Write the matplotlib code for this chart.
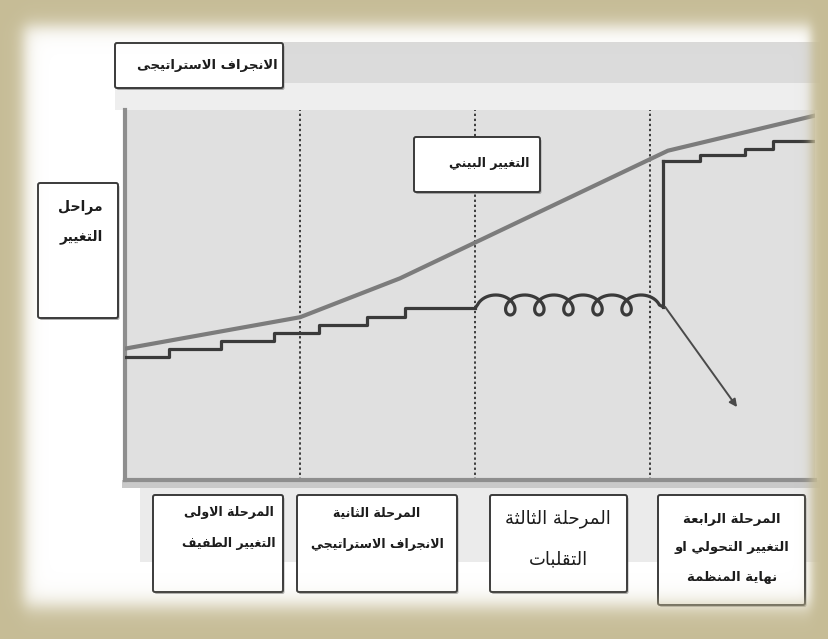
"""Stages of organisational change: incremental change, strategic drift,
turbulence, then transformation or the end of the organisation."""

import matplotlib
matplotlib.use("Agg")
import matplotlib.pyplot as plt
import numpy as np
from matplotlib.patches import FancyBboxPatch, Rectangle

# ---------------------------------------------------------------- data
# x is time measured in phases (phase boundaries at 1, 2, 3), y is the
# level of change on a 0-100 scale.
PHASE_BOUNDS = [1, 2, 3]

# environmental change (smooth grey line)
ENV_T = [0.0, 1.0, 1.57, 3.1, 3.94]
ENV_LEVEL = [35.5, 44.0, 54.5, 89.0, 98.5]

# incremental strategy steps (phases one and two)
STEP_T = [0.0, 0.25, 0.55, 0.85, 1.11, 1.38, 1.6, 2.0]
STEP_LEVEL = [33.2, 35.4, 37.6, 39.7, 41.9, 44.1, 46.5, 46.5]

# turbulence: loop centres along time
FLUX_T = [2.2, 2.366, 2.531, 2.697, 2.863]
FLUX_LEVEL = 47.3

# transformational jump and the steps after it
JUMP_T = 3.073
UPPER_T = [3.073, 3.284, 3.541, 3.70, 3.94]
UPPER_LEVEL = [86.2, 87.8, 89.5, 91.6, 91.6]

# decline arrow (end of the organisation)
DECLINE_FROM = (3.084, 46.8)
DECLINE_TO = (3.495, 19.7)

TITLE = "الانجراف الاستراتيجى"
ENV_LABEL = "التغيير البيني"
AXIS_LABEL = ["مراحل", "التغيير"]
STAGES = [
    ["المرحلة الاولى", "التغيير الطفيف"],
    ["المرحلة الثانية", "الانجراف الاستراتيجي"],
    ["المرحلة الثالثة", "التقلبات"],
    ["المرحلة الرابعة", "التغيير التحولي او", "نهاية المنظمة"],
]

# ---------------------------------------------------------------- arabic
# matplotlib lays text out left to right without contextual shaping, so
# map letters to their presentation forms and reverse each line.
_FORMS = {
    "ا": ("\uFE8D", "\uFE8E", None, None),
    "أ": ("\uFE83", "\uFE84", None, None),
    "إ": ("\uFE87", "\uFE88", None, None),
    "آ": ("\uFE81", "\uFE82", None, None),
    "ب": ("\uFE8F", "\uFE90", "\uFE91", "\uFE92"),
    "ة": ("\uFE93", "\uFE94", None, None),
    "ت": ("\uFE95", "\uFE96", "\uFE97", "\uFE98"),
    "ث": ("\uFE99", "\uFE9A", "\uFE9B", "\uFE9C"),
    "ج": ("\uFE9D", "\uFE9E", "\uFE9F", "\uFEA0"),
    "ح": ("\uFEA1", "\uFEA2", "\uFEA3", "\uFEA4"),
    "خ": ("\uFEA5", "\uFEA6", "\uFEA7", "\uFEA8"),
    "د": ("\uFEA9", "\uFEAA", None, None),
    "ذ": ("\uFEAB", "\uFEAC", None, None),
    "ر": ("\uFEAD", "\uFEAE", None, None),
    "ز": ("\uFEAF", "\uFEB0", None, None),
    "س": ("\uFEB1", "\uFEB2", "\uFEB3", "\uFEB4"),
    "ش": ("\uFEB5", "\uFEB6", "\uFEB7", "\uFEB8"),
    "ص": ("\uFEB9", "\uFEBA", "\uFEBB", "\uFEBC"),
    "ض": ("\uFEBD", "\uFEBE", "\uFEBF", "\uFEC0"),
    "ط": ("\uFEC1", "\uFEC2", "\uFEC3", "\uFEC4"),
    "ظ": ("\uFEC5", "\uFEC6", "\uFEC7", "\uFEC8"),
    "ع": ("\uFEC9", "\uFECA", "\uFECB", "\uFECC"),
    "غ": ("\uFECD", "\uFECE", "\uFECF", "\uFED0"),
    "ف": ("\uFED1", "\uFED2", "\uFED3", "\uFED4"),
    "ق": ("\uFED5", "\uFED6", "\uFED7", "\uFED8"),
    "ك": ("\uFED9", "\uFEDA", "\uFEDB", "\uFEDC"),
    "ل": ("\uFEDD", "\uFEDE", "\uFEDF", "\uFEE0"),
    "م": ("\uFEE1", "\uFEE2", "\uFEE3", "\uFEE4"),
    "ن": ("\uFEE5", "\uFEE6", "\uFEE7", "\uFEE8"),
    "ه": ("\uFEE9", "\uFEEA", "\uFEEB", "\uFEEC"),
    "و": ("\uFEED", "\uFEEE", None, None),
    "ى": ("\uFEEF", "\uFEF0", None, None),
    "ي": ("\uFEF1", "\uFEF2", "\uFEF3", "\uFEF4"),
}
_LAM_ALEF = {
    "ا": ("\uFEFB", "\uFEFC"),
    "أ": ("\uFEF7", "\uFEF8"),
    "إ": ("\uFEF9", "\uFEFA"),
    "آ": ("\uFEF5", "\uFEF6"),
}


def _joins_next(c):
    return c in _FORMS and _FORMS[c][2] is not None


def shape(line):
    out = []
    n = len(line)
    i = 0
    while i < n:
        c = line[i]
        if c not in _FORMS:
            out.append(c)
            i += 1
            continue
        prev_join = i > 0 and _joins_next(line[i - 1])
        if c == "ل" and i + 1 < n and line[i + 1] in _LAM_ALEF:
            out.append(_LAM_ALEF[line[i + 1]][1 if prev_join else 0])
            i += 2
            continue
        next_join = _joins_next(c) and i + 1 < n and line[i + 1] in _FORMS
        iso, fin, ini, med = _FORMS[c]
        if prev_join and next_join:
            out.append(med)
        elif prev_join:
            out.append(fin)
        elif next_join:
            out.append(ini)
        else:
            out.append(iso)
        i += 1
    return "".join(reversed(out))


def shape_lines(lines):
    return "\n".join(shape(s) for s in lines)


# ---------------------------------------------------------------- figure
W, H = 829, 639
PLOT_X0, PLOT_X1, PLOT_Y0, PLOT_Y1 = 125, 815, 110, 480
T_MAX, L_MAX = 3.94, 100.0
INK = "#1c1c1c"
LINE = "#3a3a3a"
plt.rcParams["font.family"] = ["DejaVu Sans"]

fig = plt.figure(figsize=(W / 100, H / 100), dpi=100)
fig.patch.set_facecolor("white")

# background layer in pixel units
bg = fig.add_axes([0, 0, 1, 1], zorder=0)
bg.set_xlim(0, W)
bg.set_ylim(H, 0)
bg.axis("off")
bg.add_patch(Rectangle((115, 42), 705, 41, fc="#dbdbdb", ec="none"))
bg.add_patch(Rectangle((115, 83), 705, 27, fc="#eeeeee", ec="none"))
bg.add_patch(Rectangle((140, 482), 680, 80, fc="#ebebeb", ec="none"))
bg.add_patch(Rectangle((122, 480), 698, 8, fc="#c9c9c9", ec="none"))

# chart area
ax = fig.add_axes([PLOT_X0 / W, 1 - PLOT_Y1 / H,
                   (PLOT_X1 - PLOT_X0) / W, (PLOT_Y1 - PLOT_Y0) / H], zorder=1)
ax.set_facecolor("#e0e0e0")
ax.set_xlim(0, T_MAX)
ax.set_ylim(0, L_MAX)
ax.set_xticks([])
ax.set_yticks([])
for side in ("top", "right"):
    ax.spines[side].set_visible(False)
for side in ("left", "bottom"):
    ax.spines[side].set_color("#8e8e8e")
    ax.spines[side].set_linewidth(3.0)

for b in PHASE_BOUNDS:
    ax.axvline(b, color="#3c3c3c", lw=1.4, ls=(0, (1.2, 1.4)), zorder=2)

ax.plot(ENV_T, ENV_LEVEL, color="#7c7c7c", lw=3.0, solid_capstyle="round",
        solid_joinstyle="round", zorder=3)
ax.step(STEP_T, STEP_LEVEL, where="post", color=LINE, lw=2.3, zorder=3)

# turbulence coil: hanging loops drawn as an elongated trochoid
px_t = (PLOT_X1 - PLOT_X0) / T_MAX          # pixels per phase
px_l = (PLOT_Y1 - PLOT_Y0) / L_MAX          # pixels per level unit
pitch = (FLUX_T[1] - FLUX_T[0]) * px_t
a = pitch / (2 * np.pi)
bx, by = 11.0, 10.0
theta = np.linspace(np.pi / 2, 2 * np.pi * len(FLUX_T) + 1.5 * np.pi, 900)
x0 = FLUX_T[0] * px_t - 2 * np.pi * a
coil_t = (x0 + a * theta - bx * np.sin(theta)) / px_t
coil_l = FLUX_LEVEL - (by * np.cos(theta)) / px_l
coil_t = np.concatenate([[STEP_T[-1]], coil_t, [JUMP_T]])
coil_l = np.concatenate([[STEP_LEVEL[-1]], coil_l, [DECLINE_FROM[1]]])
ax.plot(coil_t, coil_l, color=LINE, lw=2.3, solid_joinstyle="round", zorder=3)

ax.plot([JUMP_T, JUMP_T], [DECLINE_FROM[1], UPPER_LEVEL[0]],
        color=LINE, lw=2.3, zorder=3)
ax.step(UPPER_T, UPPER_LEVEL, where="post", color=LINE, lw=2.3, zorder=3)

ax.annotate("", xy=DECLINE_TO, xytext=DECLINE_FROM,
            arrowprops=dict(arrowstyle="-|>", color="#4a4a4a", lw=1.4,
                            mutation_scale=11, shrinkA=0, shrinkB=0),
            zorder=3)

# boxes and labels in pixel units, above the chart
fg = fig.add_axes([0, 0, 1, 1], zorder=2)
fg.set_xlim(0, W)
fg.set_ylim(H, 0)
fg.axis("off")
fg.patch.set_alpha(0)


def box(x0, y0, x1, y1):
    fg.add_patch(FancyBboxPatch((x0 + 1.5, y0 + 2), x1 - x0, y1 - y0,
                                boxstyle="round,pad=0,rounding_size=2",
                                fc="#7a7a7a", ec="none", alpha=0.6, zorder=3))
    fg.add_patch(FancyBboxPatch((x0, y0), x1 - x0, y1 - y0,
                                boxstyle="round,pad=0,rounding_size=2",
                                fc="white", ec=LINE, lw=1.4, zorder=4))


def label(x, y, lines, size=9, weight="bold", ha="center", gap=1.6):
    fg.text(x, y, shape_lines(lines), ha=ha, va="center", fontsize=size,
            fontweight=weight, color=INK, linespacing=gap, zorder=5)


box(115, 43, 283, 88)
label(207, 66, [TITLE], size=9.5)

box(414, 137, 540, 192)
label(489, 163, [ENV_LABEL], size=9)

box(38, 183, 118, 318)
label(103, 222, AXIS_LABEL, size=10, ha="right", gap=2.4)

stage_boxes = [(153, 495, 283, 592), (297, 495, 457, 592),
               (490, 495, 627, 592), (658, 495, 805, 605)]
stage_text = [(229, 528, 9, "bold", 2.75), (377, 529, 9, "bold", 2.75),
              (558, 539, 13, "normal", 2.6), (732, 548, 9.5, "bold", 2.6)]
for (bx0, by0, bx1, by1), (tx, ty, sz, wt, gp), lines in zip(
        stage_boxes, stage_text, STAGES):
    box(bx0, by0, bx1, by1)
    label(tx, ty, lines, size=sz, weight=wt, gap=gp)

# soft gold picture frame
xs = np.arange(W) + 0.5
ys = np.arange(H) + 0.5
sig = lambda v: 1.0 / (1.0 + np.exp(-v))
fx = sig((xs - 24) / 4.5) * sig((811 - xs) / 3.0)
fy = sig((ys - 26) / 5.0) * sig((606 - ys) / 6.0)
inner = fy[:, None] * fx[None, :]
frame = np.zeros((H, W, 4))
frame[..., :3] = np.array([198, 188, 150]) / 255.0
frame[..., 3] = 1.0 - inner
fg.imshow(frame, extent=(0, W, H, 0), aspect="auto", zorder=10,
          interpolation="bilinear")
fg.set_xlim(0, W)
fg.set_ylim(H, 0)

fig.savefig("out.png", dpi=100)
